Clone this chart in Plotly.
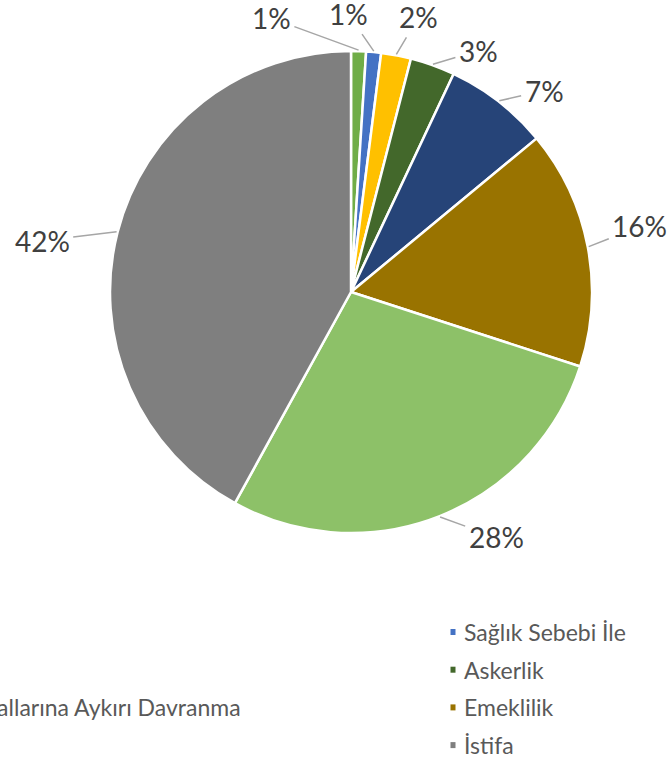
import math
import plotly.graph_objects as go

# Data (percent shares, clockwise from 12 o'clock)
categories = [
    "Vefat",
    "Sağlık Sebebi İle",
    "Diğer",
    "Askerlik",
    "Ahlak ve İyiniyet Kurallarına Aykırı Davranma",
    "Emeklilik",
    "Sözleşme Bitimi",
    "İstifa",
]
shares = [1, 1, 2, 3, 7, 16, 28, 42]
colors = ["#70AD47", "#4472C4", "#FFC000", "#43682B",
          "#264478", "#997300", "#8DC168", "#7F7F7F"]

# Layout / styling
W, H = 670, 763
CX, CY, R = 351, 292, 241
LABEL_NUDGE_DEG = [-18, -6, 3, 8, 6, -2, -9, -5]
LABEL_DIST = [285, 278, 283, 273, 279, 296, 285, 313]
LEFT_TEXT_X = -212
RIGHT_TEXT_X = 462
LEGEND_TOP = 632
LEGEND_STEP = 37.7


def px(x):
    return x / W


def py(y):
    return 1 - y / H


fig = go.Figure()
fig.add_pie(
    labels=categories,
    values=shares,
    sort=False,
    direction="clockwise",
    rotation=0,
    marker=dict(colors=colors, line=dict(color="white", width=2.5)),
    textinfo="none",
    hoverinfo="label+percent",
    showlegend=False,
    domain=dict(x=[px(CX - R), px(CX + R)], y=[py(CY + R), py(CY - R)]),
)

total = sum(shares)
annotations = []
shapes = []
cum = 0
for i, v in enumerate(shares):
    mid = 2 * math.pi * (cum + v / 2) / total
    cum += v
    ex = CX + (R + 1) * math.sin(mid)
    ey = CY - (R + 1) * math.cos(mid)
    la = mid + math.radians(LABEL_NUDGE_DEG[i])
    lx = CX + LABEL_DIST[i] * math.sin(la)
    ly = CY - LABEL_DIST[i] * math.cos(la)
    annotations.append(dict(
        x=px(ex), y=py(ey), xref="paper", yref="paper",
        ax=lx - ex, ay=ly - ey,
        text=f"{round(v / total * 100)}%",
        showarrow=True, arrowhead=0, arrowwidth=1.5, arrowcolor="#A6A6A6",
        standoff=0, startstandoff=2,
        font=dict(family="Lato", size=28, color="#404040"),
    ))

# Two-column legend (left column runs off the page like in the reference)
for i, cat in enumerate(categories):
    col, row = i % 2, i // 2
    tx = LEFT_TEXT_X if col == 0 else RIGHT_TEXT_X
    y = LEGEND_TOP + row * LEGEND_STEP
    annotations.append(dict(
        x=px(tx), y=py(y), xref="paper", yref="paper",
        xanchor="left", yanchor="middle", showarrow=False,
        text=cat, font=dict(family="Lato", size=23, color="#595959"),
    ))
    shapes.append(dict(
        type="rect", xref="paper", yref="paper",
        xsizemode="pixel", ysizemode="pixel",
        xanchor=px(tx - 9), yanchor=py(y),
        x0=-2.5, x1=2.5, y0=-3, y1=3,
        fillcolor=colors[i], line=dict(width=0),
    ))

fig.update_layout(
    width=W, height=H,
    margin=dict(l=0, r=0, t=0, b=0),
    paper_bgcolor="white",
    plot_bgcolor="white",
    annotations=annotations,
    shapes=shapes,
)

# Drop the default page margin so the figure sits at the window's corner
fig.write_html(
    "out.html",
    config={"displayModeBar": False},
    post_script="document.body.style.margin = '0px';",
)
